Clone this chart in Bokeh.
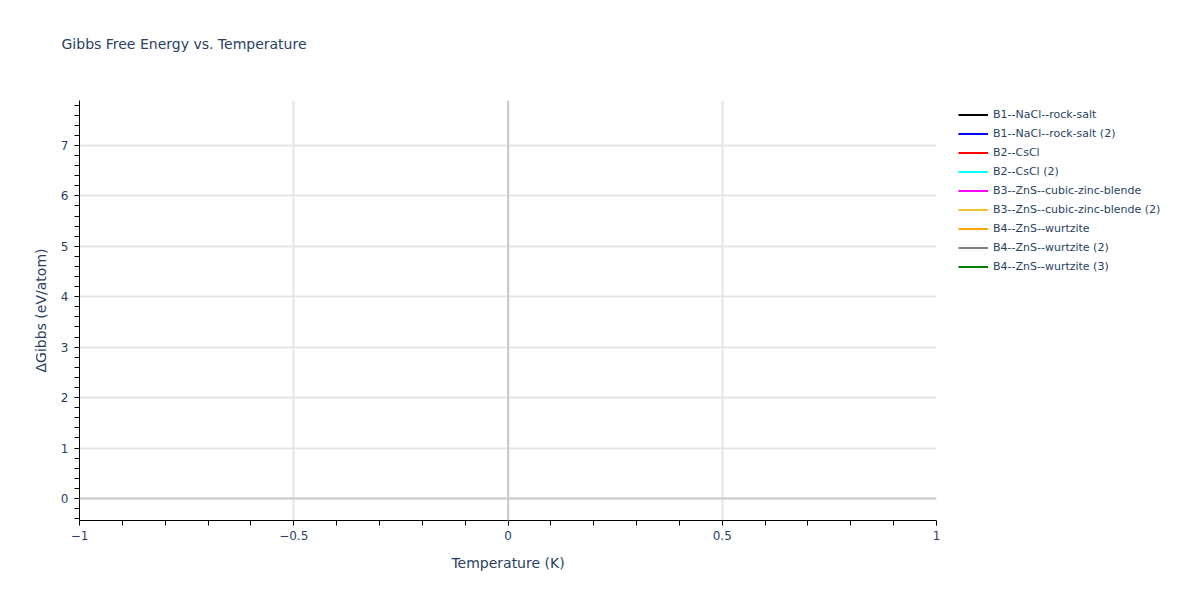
from bokeh.plotting import figure
from bokeh.models import FixedTicker, Span, Legend, LegendItem, Range1d, Title
from bokeh.embed import file_html
from bokeh.resources import INLINE

nan = float("nan")

# series shown in the legend (the original traces drew no visible points)
names = ["B1--NaCl--rock-salt", "B1--NaCl--rock-salt (2)", "B2--CsCl", "B2--CsCl (2)",
         "B3--ZnS--cubic-zinc-blende", "B3--ZnS--cubic-zinc-blende (2)",
         "B4--ZnS--wurtzite", "B4--ZnS--wurtzite (2)", "B4--ZnS--wurtzite (3)"]
colors = ["black", "blue", "red", "cyan", "magenta", "#f2c12e", "orange", "grey", "green"]
temps = [[nan] for _ in names]
gibbs = [[nan] for _ in names]

x_ticks = [-1, -0.5, 0, 0.5, 1]
x_minor = [round(-1 + 0.1 * i, 1) for i in range(21)]
y_ticks = [0, 1, 2, 3, 4, 5, 6, 7]
y_minor = [round(-0.4 + 0.2 * i, 1) for i in range(42)]

FONT = "DejaVu Sans"
TXT = "#2a3f5f"

p = figure(frame_width=857, frame_height=420, output_backend="svg", toolbar_location=None,
           title="Gibbs Free Energy vs. Temperature",
           x_axis_label="Temperature (K)", y_axis_label="ΔGibbs (eV/atom)",
           x_range=Range1d(-1, 1), y_range=Range1d(-0.436, 7.89),
           min_border_left=79, min_border_right=259, min_border_top=100, min_border_bottom=75)
p.outline_line_color = None

p.title.text_font = FONT
p.title.text_font_size = "14px"
p.title.text_font_style = "normal"
p.title.text_color = TXT
p.title.offset = -18
p.title.standoff = 14

# spacer that pushes the title up
p.add_layout(Title(text=" ", text_font_size="1px", standoff=39), "above")

items = []
for n, c, xs, ys in zip(names, colors, temps, gibbs):
    r = p.line(xs, ys, line_color=c, line_width=2)
    items.append(LegendItem(label=n, renderers=[r]))

leg = Legend(items=items, location=(22, 244), padding=0, margin=0, spacing=0,
             glyph_width=30, glyph_height=19, label_height=19, label_standoff=5,
             label_text_font=FONT, label_text_font_size="11px", label_text_color=TXT,
             border_line_color=None, background_fill_alpha=0)
p.add_layout(leg, "right")

for ax, major, minor in ((p.xaxis[0], x_ticks, x_minor), (p.yaxis[0], y_ticks, y_minor)):
    ax.ticker = FixedTicker(ticks=major, minor_ticks=minor)
    ax.axis_line_color = "black"
    ax.major_tick_line_color = "#bdbdbd"
    ax.major_tick_out = 5
    ax.major_tick_in = 0
    ax.minor_tick_line_color = "black"
    ax.minor_tick_out = 5
    ax.minor_tick_in = 0
    ax.major_label_text_font = FONT
    ax.major_label_text_font_size = "12px"
    ax.major_label_text_color = TXT
    ax.axis_label_text_font = FONT
    ax.axis_label_text_font_size = "14px"
    ax.axis_label_text_font_style = "normal"
    ax.axis_label_text_color = TXT

p.xaxis.major_label_overrides = {-1: "\u22121", -0.5: "\u22120.5"}
p.xaxis.major_label_standoff = 5
p.xaxis.axis_label_standoff = 12
p.yaxis.major_label_standoff = 6
p.yaxis.axis_label_standoff = 9

p.grid.grid_line_color = "#e5e5e5"
p.grid.grid_line_width = 2
p.add_layout(Span(location=0, dimension="width", line_color="#cccccc", line_width=2))
p.add_layout(Span(location=0, dimension="height", line_color="#cccccc", line_width=2))

open("out.html", "w").write(file_html(p, INLINE))
